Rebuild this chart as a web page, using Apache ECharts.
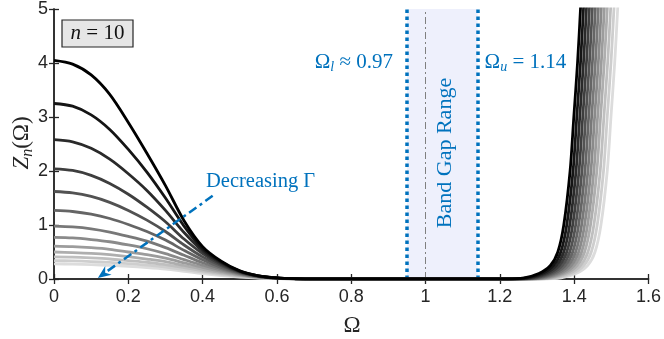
<!DOCTYPE html>
<html><head><meta charset="utf-8">
<script src="https://cdn.jsdelivr.net/npm/echarts@6/dist/echarts.min.js"></script>
<style>html,body{margin:0;padding:0;background:#fff}#c{width:664px;height:339px}</style>
</head><body><div id="c"></div>
<script>
// ---- data ----
const xTickLabels = ['0','0.2','0.4','0.6','0.8','1','1.2','1.4','1.6'];
const yTickLabels = ['0','1','2','3','4','5'];

// left branch: shared Omega grid, one value list per curve (darkest first)
const leftOmega = [0,0.05,0.1,0.15,0.2,0.25,0.3,0.35,0.4,0.45,0.5,0.55,0.6,0.65,0.7];
const z01L = [4.05,3.98,3.78,3.42,2.90,2.33,1.73,1.08,0.60,0.33,0.15,0.06,0.02,0.005,0];
const z02L = [3.25,3.20,3.04,2.77,2.40,1.98,1.50,0.98,0.56,0.315,0.145,0.058,0.02,0.005,0];
const z03L = [2.58,2.54,2.42,2.22,1.95,1.64,1.27,0.86,0.52,0.295,0.138,0.056,0.019,0.005,0];
const z04L = [2.04,2.01,1.92,1.77,1.57,1.33,1.06,0.74,0.47,0.27,0.13,0.053,0.018,0.005,0];
const z05L = [1.62,1.595,1.53,1.42,1.27,1.09,0.88,0.63,0.41,0.245,0.12,0.05,0.017,0.005,0];
const z06L = [1.27,1.25,1.20,1.12,1.01,0.88,0.72,0.53,0.355,0.215,0.11,0.046,0.016,0.004,0];
const z07L = [0.98,0.965,0.93,0.87,0.79,0.70,0.58,0.44,0.30,0.19,0.098,0.042,0.015,0.004,0];
const z08L = [0.77,0.76,0.73,0.69,0.63,0.56,0.47,0.36,0.255,0.165,0.087,0.038,0.014,0.004,0];
const z09L = [0.61,0.60,0.58,0.55,0.50,0.45,0.385,0.30,0.215,0.14,0.076,0.034,0.013,0.004,0];
const z10L = [0.50,0.49,0.475,0.45,0.415,0.37,0.32,0.25,0.18,0.12,0.066,0.03,0.012,0.003,0];
const z11L = [0.41,0.405,0.39,0.37,0.34,0.31,0.265,0.21,0.152,0.10,0.056,0.026,0.01,0.003,0];
const z12L = [0.34,0.335,0.323,0.306,0.283,0.256,0.222,0.175,0.127,0.083,0.047,0.022,0.009,0.003,0];
const z13L = [0.28,0.276,0.266,0.252,0.235,0.213,0.185,0.143,0.10,0.065,0.037,0.018,0.008,0.002,0];

// right branch: Omega at which each curve reaches the shared Z levels
const rightLevels = [0,0.02,0.1,0.25,0.5,1,2,3,4,5,6];
const w01R = [1.220,1.265,1.305,1.336,1.356,1.372,1.389,1.399,1.409,1.417,1.424];
const w02R = [1.228,1.273,1.313,1.344,1.364,1.380,1.397,1.407,1.417,1.425,1.432];
const w03R = [1.236,1.281,1.321,1.352,1.372,1.388,1.405,1.415,1.425,1.433,1.440];
const w04R = [1.244,1.289,1.329,1.360,1.380,1.396,1.413,1.423,1.433,1.441,1.448];
const w05R = [1.252,1.297,1.337,1.368,1.388,1.404,1.421,1.431,1.441,1.449,1.456];
const w06R = [1.260,1.305,1.345,1.376,1.396,1.412,1.429,1.439,1.449,1.457,1.464];
const w07R = [1.268,1.313,1.353,1.384,1.404,1.420,1.437,1.447,1.457,1.465,1.472];
const w08R = [1.276,1.321,1.361,1.392,1.412,1.428,1.445,1.455,1.465,1.473,1.480];
const w09R = [1.284,1.329,1.369,1.400,1.420,1.436,1.453,1.463,1.473,1.481,1.488];
const w10R = [1.292,1.337,1.377,1.408,1.428,1.444,1.461,1.471,1.481,1.489,1.496];
const w11R = [1.301,1.346,1.386,1.417,1.437,1.453,1.470,1.480,1.490,1.498,1.505];
const w12R = [1.310,1.355,1.395,1.426,1.446,1.462,1.479,1.489,1.499,1.507,1.514];
const w13R = [1.320,1.365,1.405,1.436,1.456,1.472,1.489,1.499,1.509,1.517,1.524];

const grays = ['#000000','#151515','#2a2a2a','#3e3e3e','#525252','#656565','#787878','#8a8a8a','#9c9c9c','#aeaeae','#bfbfbf','#cecece','#dcdcdc'];

const bandLow = 0.95, bandHigh = 1.14, bandCenter = 1.0;
const arrowTail = [0.427, 1.54], arrowHead = [0.118, 0.02];

// ---- build chart ----
const leftSets = [z01L,z02L,z03L,z04L,z05L,z06L,z07L,z08L,z09L,z10L,z11L,z12L,z13L];
const rightSets = [w01R,w02R,w03R,w04R,w05R,w06R,w07R,w08R,w09R,w10R,w11R,w12R,w13R];

const blue = '#0072BD';
const axisCol = '#262626';
const serif = '"Liberation Serif", "DejaVu Serif", serif';
const sans = '"Liberation Sans", Arial, sans-serif';

const curveSeries = [];
for (let k = leftSets.length - 1; k >= 0; k--) {
  const L = leftSets[k], R = rightSets[k];
  const data = leftOmega.map((x, i) => [x, L[i]])
    .concat(R.map((x, i) => [x, rightLevels[i]]));
  curveSeries.push({
    type: 'line', data, showSymbol: false, symbol: 'none',
    smooth: 0.3,
    lineStyle: { color: grays[k], width: 2.8 },
    z: 5, silent: true, clip: true
  });
}

const chart = echarts.init(document.getElementById('c'), null, { renderer: 'canvas' });
const xCommon = { type: 'value', min: 0, max: 1.6, interval: 0.2 };
const yCommon = { type: 'value', min: 0, max: 5, interval: 1 };
chart.setOption({
  animation: false,
  grid: { left: 54, right: 14, top: 7, bottom: 60 },
  xAxis: [
    Object.assign({}, xCommon, {
      position: 'bottom',
      axisLine: { lineStyle: { color: axisCol, width: 1.5 } },
      axisTick: { inside: true, length: 5, lineStyle: { color: axisCol, width: 1.3 } },
      axisLabel: { color: axisCol, fontFamily: sans, fontSize: 18, margin: 9,
        formatter: v => xTickLabels[Math.round(v / 0.2)] },
      splitLine: { show: false }
    }),
    Object.assign({}, xCommon, {
      position: 'top',
      axisLine: { lineStyle: { color: axisCol, width: 1.5 } },
      axisTick: { inside: true, length: 5, lineStyle: { color: axisCol, width: 1.3 } },
      axisLabel: { show: false }, splitLine: { show: false }
    })
  ],
  yAxis: [
    Object.assign({}, yCommon, {
      position: 'left',
      axisLine: { show: true, lineStyle: { color: axisCol, width: 1.5 } },
      axisTick: { show: true, inside: true, length: 5, lineStyle: { color: axisCol, width: 1.3 } },
      axisLabel: { color: axisCol, fontFamily: sans, fontSize: 18, margin: 6,
        formatter: v => yTickLabels[Math.round(v)] },
      splitLine: { show: false }
    }),
    Object.assign({}, yCommon, {
      position: 'right',
      axisLine: { show: true, lineStyle: { color: axisCol, width: 1.5 } },
      axisTick: { show: true, inside: true, length: 5, lineStyle: { color: axisCol, width: 1.3 } },
      axisLabel: { show: false }, splitLine: { show: false }
    })
  ],
  series: [
    {
      type: 'line', data: [], silent: true, z: 1,
      markArea: { silent: true, itemStyle: { color: '#eef0fc' },
        data: [[{ xAxis: bandLow }, { xAxis: bandHigh }]] },
      markLine: { silent: true, symbol: 'none', label: { show: false },
        data: [
          { xAxis: bandLow, lineStyle: { color: blue, width: 3.5, type: [3.5, 3.5] } },
          { xAxis: bandHigh, lineStyle: { color: blue, width: 3.5, type: [3.5, 3.5] } },
          { xAxis: bandCenter, lineStyle: { color: '#808080', width: 1, type: [7, 3, 2, 3] } }
        ] }
    }
  ].concat(curveSeries)
});

const p = (x, y) => chart.convertToPixel({ gridIndex: 0 }, [x, y]);
const pl = p(bandLow, 4.0), pu = p(bandHigh, 4.0);
const t0 = p(arrowTail[0], arrowTail[1]), h0 = p(arrowHead[0], arrowHead[1]);
const dx = h0[0] - t0[0], dy = h0[1] - t0[1], len = Math.hypot(dx, dy);
const ux = dx / len, uy = dy / len, nx = -uy, ny = ux;
const headLen = 13, headW = 5.5, notch = 4;
const base = [h0[0] - ux * headLen, h0[1] - uy * headLen];
const headPts = [
  h0,
  [base[0] + nx * headW, base[1] + ny * headW],
  [h0[0] - ux * (headLen - notch), h0[1] - uy * (headLen - notch)],
  [base[0] - nx * headW, base[1] - ny * headW]
];
const lineEnd = [h0[0] - ux * (headLen - notch), h0[1] - uy * (headLen - notch)];
const sub = { fontFamily: serif, fontSize: 14, fontStyle: 'italic', padding: [10, 0, 0, 0] };
chart.setOption({
  graphic: [
    { type: 'line', z: 60, shape: { x1: t0[0], y1: t0[1], x2: lineEnd[0], y2: lineEnd[1] },
      style: { stroke: blue, lineWidth: 2.5, lineDash: [9, 4, 3, 4] } },
    { type: 'polygon', z: 60, shape: { points: headPts }, style: { fill: blue } },
    { type: 'rect', shape: { x: 62, y: 20, width: 71, height: 27 },
      style: { fill: '#e6e6e6', stroke: axisCol, lineWidth: 1.2 }, z: 50 },
    { type: 'text', x: 97.5, y: 33.5, z: 51,
      style: { text: '{i|n}{a| = 10}', align: 'center', verticalAlign: 'middle',
        rich: { i: { fontFamily: serif, fontSize: 21, fontStyle: 'italic', fill: '#111' },
                a: { fontFamily: serif, fontSize: 21, fill: '#111' } } } },
    { type: 'text', x: pl[0] - 14, y: 62, z: 51,
      style: { text: '{a|Ω}{s|l}{a| ≈ 0.97}', align: 'right', verticalAlign: 'middle',
        rich: { a: { fontFamily: serif, fontSize: 21, fill: blue }, s: Object.assign({ fill: blue }, sub) } } },
    { type: 'text', x: pu[0] + 7, y: 62, z: 51,
      style: { text: '{a|Ω}{s|u}{a| = 1.14}', align: 'left', verticalAlign: 'middle',
        rich: { a: { fontFamily: serif, fontSize: 21, fill: blue }, s: Object.assign({ fill: blue }, sub) } } },
    { type: 'text', x: 445, y: 153, rotation: Math.PI / 2, z: 51,
      style: { text: 'Band Gap Range', align: 'center', verticalAlign: 'middle',
        fontFamily: serif, fontSize: 22, fill: blue } },
    { type: 'text', x: 206, y: 182, z: 51,
      style: { text: 'Decreasing Γ', align: 'left', verticalAlign: 'middle',
        fontFamily: serif, fontSize: 20.5, fill: blue } },
    { type: 'text', x: 22, y: 143, rotation: Math.PI / 2, z: 51,
      style: { text: '{i|Z}{s|n}{a|(Ω)}', align: 'center', verticalAlign: 'middle',
        rich: { i: { fontFamily: serif, fontSize: 23, fontStyle: 'italic', fill: axisCol },
                a: { fontFamily: serif, fontSize: 23, fill: axisCol },
                s: { fontFamily: serif, fontSize: 16, fontStyle: 'italic', fill: axisCol, padding: [12, 0, 0, 0] } } } },
    { type: 'text', x: 352, y: 326, z: 51,
      style: { text: 'Ω', align: 'center', verticalAlign: 'middle',
        fontFamily: serif, fontSize: 23, fill: axisCol } }
  ]
});
</script>
</body></html>
